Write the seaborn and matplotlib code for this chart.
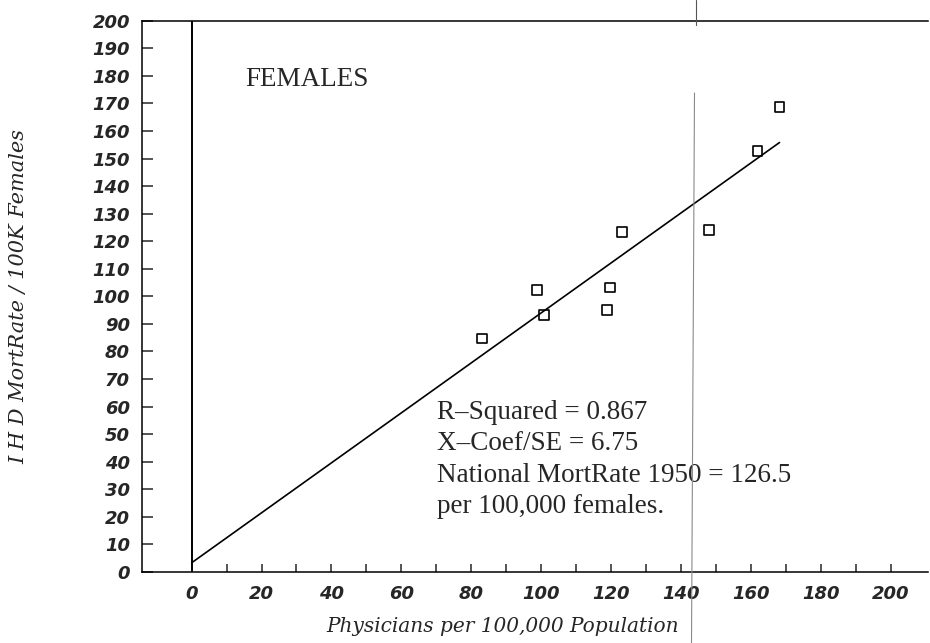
import numpy as np
import seaborn as sns
import matplotlib.pyplot as plt
from matplotlib.lines import Line2D

# values
physicians = [83.0, 98.7, 100.7, 118.9, 119.7, 123.2, 148.1, 161.9, 168.2]
mortrate = [84.7, 102.4, 93.1, 95.2, 103.2, 123.3, 124.2, 152.6, 168.8]
stats_lines = ["R\u2013Squared = 0.867", "X\u2013Coef/SE = 6.75",
               "National MortRate 1950 = 126.5", "per 100,000 females."]
panel_title = "FEMALES"

sns.set_style("white")
plt.rcParams['font.family'] = ['DejaVu Sans']

fig = plt.figure(figsize=(9.3, 6.43), dpi=100)
ax = fig.add_axes([0.1527, 0.1104, 0.8452, 0.8574])

# least squares line from x=0 out to the last point
slope, icpt = np.polyfit(physicians, mortrate, 1)
fit_x = np.linspace(0, max(physicians), 50)
sns.lineplot(x=fit_x, y=icpt + slope * fit_x, color='black', lw=1.2, ax=ax)
sns.scatterplot(x=physicians, y=mortrate, marker='s', s=50, facecolors='none',
                edgecolors='black', linewidth=1.2, ax=ax, zorder=3)

ax.axvline(0, color='black', lw=1.4)

ax.set_xlim(-14.2, 210.7)
ax.set_ylim(0, 200)
ax.set_xticks(np.arange(0, 201, 20))
ax.set_xticks(np.arange(10, 200, 20), minor=True)
ax.set_yticks(np.arange(0, 201, 10))

ax.spines['right'].set_visible(False)
for s in ['left', 'bottom', 'top']:
    ax.spines[s].set_linewidth(1.1)
    ax.spines[s].set_color('black')

ax.tick_params(axis='y', direction='in', length=8, width=1.1, pad=8.6, left=True)
ax.tick_params(axis='x', which='both', direction='in', length=6, width=1.1,
               pad=9.4, bottom=True)
for lab in ax.get_xticklabels() + ax.get_yticklabels():
    lab.set_fontstyle('italic')
    lab.set_fontweight('bold')
    lab.set_fontsize(13)

ax.set_xlabel("Physicians per 100,000 Population", family='DejaVu Serif',
              style='italic', fontsize=14.5)
ax.set_ylabel("I H D MortRate / 100K Females", family='DejaVu Serif',
              style='italic', fontsize=15)
ax.xaxis.set_label_coords(0.4593, -0.082)
ax.yaxis.set_label_coords(-0.145, 0.5)

ax.text(15.3, 176.3, panel_title, family='Liberation Serif', fontsize=19.5,
        va='baseline')
for i, line in enumerate(stats_lines):
    ax.text(70.1, 55.4 - i * 11.3, line, family='Liberation Serif',
            fontsize=19.5, va='baseline')

# faint fold line from the scan
fig.add_artist(Line2D([695.5 / 930, 695.5 / 930], [1, 1 - 25 / 643],
                      color='#555555', lw=0.8))
fig.add_artist(Line2D([694.5 / 930, 691.5 / 930], [1 - 93 / 643, 0],
                      color='#8a8a8a', lw=0.8))

fig.savefig('out.png', dpi=100)
